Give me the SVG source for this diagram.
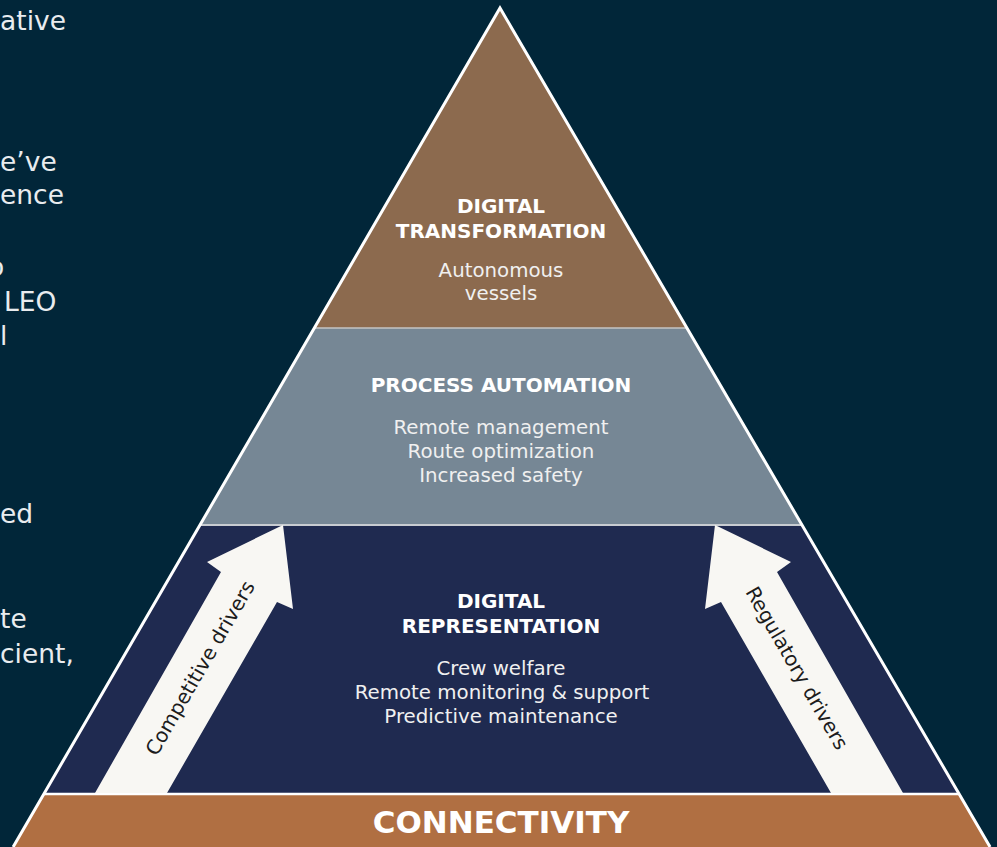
<svg xmlns="http://www.w3.org/2000/svg" width="997" height="847" viewBox="0 0 997 847">
  <style>
    .side { font-family: "DejaVu Sans", Verdana, sans-serif; font-size: 26.5px; fill: #e9ecef; }
    .title { font-family: "DejaVu Sans", Verdana, sans-serif; font-size: 20px; font-weight: bold; fill: #ffffff; text-anchor: middle; }
    .body { font-family: "DejaVu Sans", Verdana, sans-serif; font-size: 19.8px; fill: #f0f0f0; text-anchor: middle; }
    .big { font-family: "DejaVu Sans", Verdana, sans-serif; font-size: 31px; font-weight: bold; fill: #ffffff; text-anchor: middle; }
    .arrow { fill: #f8f7f3; }
    .alabel { font-family: "DejaVu Sans", Verdana, sans-serif; font-size: 20px; fill: #1c1c1c; text-anchor: middle; }
  </style>
  <rect x="0" y="0" width="997" height="847" fill="#012639"/>

  <g id="side-text">
    <text class="side" x="0" y="30">ative</text>
    <text class="side" x="0" y="171">e’ve</text>
    <text class="side" x="0" y="204">ence</text>
    <text class="side" x="-12" y="276">o</text>
    <text class="side" x="4" y="311">LEO</text>
    <text class="side" x="0" y="345">l</text>
    <text class="side" x="0" y="523">ed</text>
    <text class="side" x="0" y="628">te</text>
    <text class="side" x="0" y="663">cient,</text>
  </g>

  <g id="layer-transformation">
    <polygon points="500,8 686.9,328 314.3,328" fill="#8c6a4e"/>
    <text class="title" x="501" y="213">DIGITAL</text>
    <text class="title" x="501" y="238">TRANSFORMATION</text>
    <text class="body" x="501" y="277">Autonomous</text>
    <text class="body" x="501" y="300">vessels</text>
  </g>

  <g id="layer-automation">
    <polygon points="314.3,328 686.9,328 802,525 199.9,525" fill="#768795"/>
    <text class="title" x="501" y="392">PROCESS AUTOMATION</text>
    <text class="body" x="501" y="434">Remote management</text>
    <text class="body" x="501" y="458">Route optimization</text>
    <text class="body" x="501" y="482">Increased safety</text>
  </g>

  <g id="layer-representation">
    <polygon points="199.9,525 802,525 958.5,793 44.4,793" fill="#1f2a50"/>
    <text class="title" x="501" y="608">DIGITAL</text>
    <text class="title" x="501" y="633">REPRESENTATION</text>
    <text class="body" x="501" y="675">Crew welfare</text>
    <text class="body" x="502" y="699">Remote monitoring &amp; support</text>
    <text class="body" x="501" y="723">Predictive maintenance</text>
  </g>

  <g id="layer-connectivity">
    <polygon points="44.4,793 958.5,793 990.1,847 13.1,847" fill="#b06f42"/>
    <text class="big" x="501" y="833">CONNECTIVITY</text>
  </g>

  <g id="separators">
    <line x1="314.3" y1="328" x2="686.9" y2="328" stroke="#c4c4c4" stroke-width="1.5"/>
    <line x1="199.9" y1="525" x2="802" y2="525" stroke="#c8ccd1" stroke-width="2"/>
    <line x1="44.4" y1="794" x2="958.5" y2="794" stroke="#ffffff" stroke-width="2.5"/>
    <polyline points="13.1,847 500,8 990.1,847" fill="none" stroke="#ffffff" stroke-width="3" stroke-linejoin="miter"/>
  </g>

  <g id="connectors">
    <g id="arrow-competitive">
      <polygon class="arrow" points="95,793 221,572 207,562 283,525 293,609 277,602 167,793"/>
      <text class="alabel" transform="translate(200,668) rotate(-60)" x="0" y="7">Competitive drivers</text>
    </g>
    <g id="arrow-regulatory">
      <polygon class="arrow" points="903,793 777,572 791,562 715,525 705,609 721,602 831,793"/>
      <text class="alabel" transform="translate(797,668) rotate(60)" x="0" y="7">Regulatory drivers</text>
    </g>
  </g>
</svg>
